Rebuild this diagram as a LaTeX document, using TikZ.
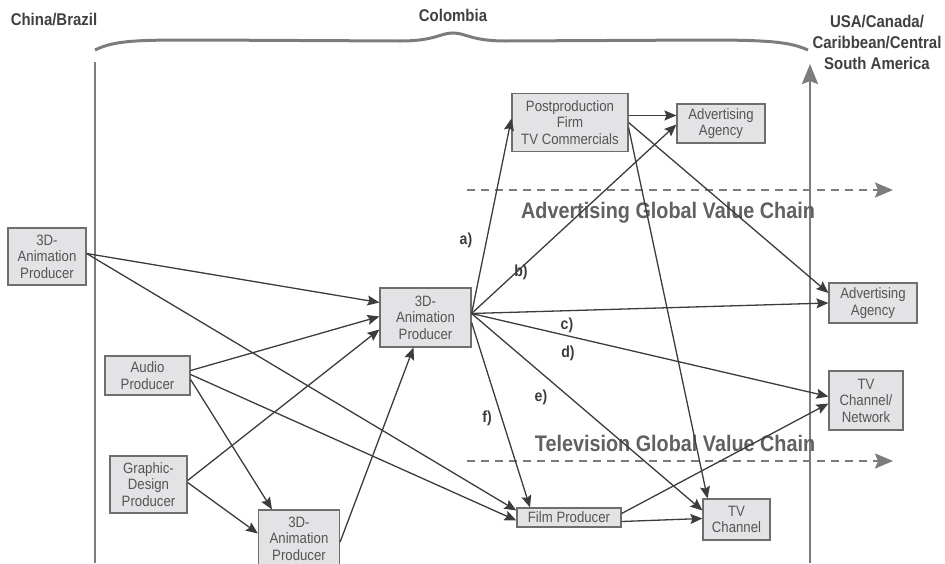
\documentclass[tikz,border=0pt]{standalone}
\usepackage{fontspec}
\setmainfont{Liberation Sans}[FakeStretch=0.88]
\usetikzlibrary{arrows.meta}
\definecolor{boxfill}{HTML}{E3E3E5}
\definecolor{boxline}{HTML}{6E6E6E}
\definecolor{boxtext}{HTML}{555555}
\definecolor{arrowc}{HTML}{3C3C3C}
\definecolor{guide}{HTML}{7C7C7C}
\tikzset{
	firm/.style = {draw=boxline, fill=boxfill, line width=1.2pt, align=center,
		inner sep=0pt, text=boxtext, font=\fontsize{15}{16.5}\selectfont},% entreprise
	region/.style = {font=\bfseries\fontsize{17}{21}\selectfont, text=black!75,
		align=center},% pays
	chain/.style = {font=\bfseries\fontsize{22.5}{26}\selectfont, text=black!62},% chaine de valeur
	lbl/.style = {font=\bfseries\fontsize{16}{18}\selectfont, text=arrowc},% etiquette
	link/.style = {draw=arrowc, line width=1.3pt,
		-{Stealth[length=12pt,width=10pt,inset=2pt]}},% lien
	flow/.style = {draw=guide, line width=2.2pt, dash pattern=on 8pt off 6pt,
		-{Stealth[length=18pt,width=15pt,inset=3pt]}}% fleche en pointilles
}

\begin{document}
\begin{tikzpicture}[x=1pt,y=-1pt]
\useasboundingbox (0,0) rectangle (945,563);

% regions
\node [region] (china) at (54,20) {China/Brazil};
\node [region] (colombia) at (453,15) {Colombia};
\node [region] (usa) at (877,42) {USA/Canada/\\Caribbean/Central\\South America};
\draw [guide, line width=3pt] (95,50) .. controls (115,40) and (140,40) .. (200,40)
	-- (400,41) .. controls (435,41) and (440,33) .. (453,33)
	.. controls (466,33) and (471,41) .. (506,41)
	-- (705,40) .. controls (770,40) and (790,42) .. (808,50);
\draw [guide, line width=2.5pt] (95,62) -- (95,563);
\draw [guide, line width=2.5pt, -{Stealth[length=20pt,width=16pt,inset=3pt]}] (810,563) -- (810,64);

% chaines de valeur
\draw [flow] (467,190) -- (893,190);
\draw [flow] (467,461) -- (893,461);
\node [chain] (adchain) at (668,213) {Advertising Global Value Chain};
\node [chain] (tvchain) at (675,443) {Television Global Value Chain};

% entreprises
\node [firm, minimum width=78, minimum height=57] (anL) at (47,256.5) {3D-\\Animation\\Producer};
\node [firm, minimum width=85, minimum height=39] (audio) at (147.5,375.5) {Audio\\Producer};
\node [firm, minimum width=77, minimum height=57] (graphic) at (148.5,484.5) {Graphic-\\Design\\Producer};
\node [firm, minimum width=81, minimum height=57] (anB) at (299,538.5) {3D-\\Animation\\Producer};
\node [firm, minimum width=91, minimum height=59] (anC) at (425.5,317.5) {3D-\\Animation\\Producer};
\node [firm, minimum width=116, minimum height=58] (post) at (570,122.5) {Postproduction\\Firm\\TV Commercials};
\node [firm, minimum width=88, minimum height=39] (adTop) at (721,123.5) {Advertising\\Agency};
\node [firm, minimum width=88, minimum height=40] (adRight) at (873,303) {Advertising\\Agency};
\node [firm, minimum width=74, minimum height=59] (tvNet) at (866,400.5) {TV\\Channel/\\Network};
\node [firm, minimum width=104, minimum height=19] (film) at (569,517.5) {Film Producer};
\node [firm, minimum width=67, minimum height=41] (tvCh) at (736.5,519.5) {TV\\Channel};

% liens
\draw [link] ([yshift=3]anL.east) -- ([yshift=15]anC.west);
\draw [link] ([yshift=3]anL.east) -- ([yshift=7]film.west);
\draw [link] ([yshift=5]audio.east) -- ([yshift=1]anC.west);
\draw [link] ([yshift=1]audio.east) -- ([yshift=-3]film.west);
\draw [link] ([yshift=-4]audio.east) -- ([xshift=-27]anB.north);
\draw [link] ([yshift=4]graphic.east) -- ([yshift=-12]anC.west);
\draw [link] ([yshift=2]graphic.east) -- ([yshift=5]anB.west);
\draw [link] ([yshift=-3.5]anB.east) -- ([xshift=-12]anC.south);

\coordinate (hub) at ([yshift=4]anC.east);
\draw [link] (hub) -- ([yshift=4]post.west);
\draw [link] (hub) -- ([yshift=-1]adTop.west);
\draw [link] (hub) -- (adRight.west);
\draw [link] (hub) -- ([yshift=4]tvNet.west);
\draw [link] (hub) -- ([yshift=9]tvCh.west);
\draw [link] ([yshift=-5]anC.east) -- ([xshift=-39]film.north);

\draw [link] ([yshift=7]post.east) -- ([yshift=8]adTop.west);
\draw [link] (post.east) -- ([yshift=10]adRight.west);
\draw [link] ([yshift=-5]post.east) -- ([xshift=-29]tvCh.north);
\draw [link] ([yshift=-4]film.east) -- ([yshift=1]tvCh.west);
\draw [link] ([yshift=4]film.east) -- ([yshift=-3]tvNet.west);

% etiquettes
\node [lbl] (la) at (466,240) {a)};
\node [lbl] (lb) at (521,272) {b)};
\node [lbl] (lc) at (567,325) {c)};
\node [lbl] (ld) at (568,353) {d)};
\node [lbl] (le) at (541,397) {e)};
\node [lbl] (lf) at (487,418) {f)};
\end{tikzpicture}
\end{document}
